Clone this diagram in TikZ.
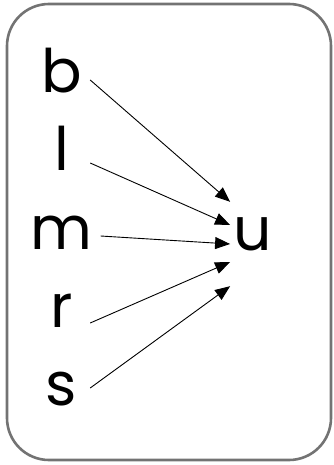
\documentclass[tikz,border=0pt]{standalone}
\usepackage{fontspec}
\setmainfont{Poppins}
\usetikzlibrary{arrows.meta}

\tikzset{
    letter/.style={font=\fontsize{60}{60}\selectfont, anchor=base,
        inner xsep=8pt, inner ysep=0pt, minimum width=57pt,
        text height=26pt, text depth=0pt},
    target/.style={font=\fontsize{60}{60}\selectfont, anchor=base,
        inner xsep=3pt, inner ysep=0pt, text height=33pt, text depth=21pt,
        minimum height=84pt},
    flow/.style={-{Triangle[length=15pt,width=12pt]}, line width=0.9pt},
}

\begin{document}
\begin{tikzpicture}[x=1pt,y=-1pt]
            \useasboundingbox (0,0) rectangle (333,465);
            \draw[black!55, line width=2.6pt, rounded corners=42pt] (7,4) rectangle (331,460);

            \node[letter] (b) at (61.5,93) {b};
            \node[letter] (l) at (61.5,170) {l};
            \node[letter] (m) at (61.5,249) {m};
            \node[letter] (r) at (61.5,327) {r};
            \node[letter] (s) at (61.5,405) {s};
            \node[target] (u) at (252.5,250) {u};

            \draw[flow] (b.east) -- (u.north west);
            \draw[flow] ([yshift=-6pt]l.east) -- ([yshift=19pt]u.west);
            \draw[flow] (m.east) -- (u.west);
            \draw[flow] ([yshift=-9pt]r.east) -- ([yshift=-18pt]u.west);
            \draw[flow] ([yshift=4pt]s.east) -- (u.south west);

        \end{tikzpicture}
\end{document}
